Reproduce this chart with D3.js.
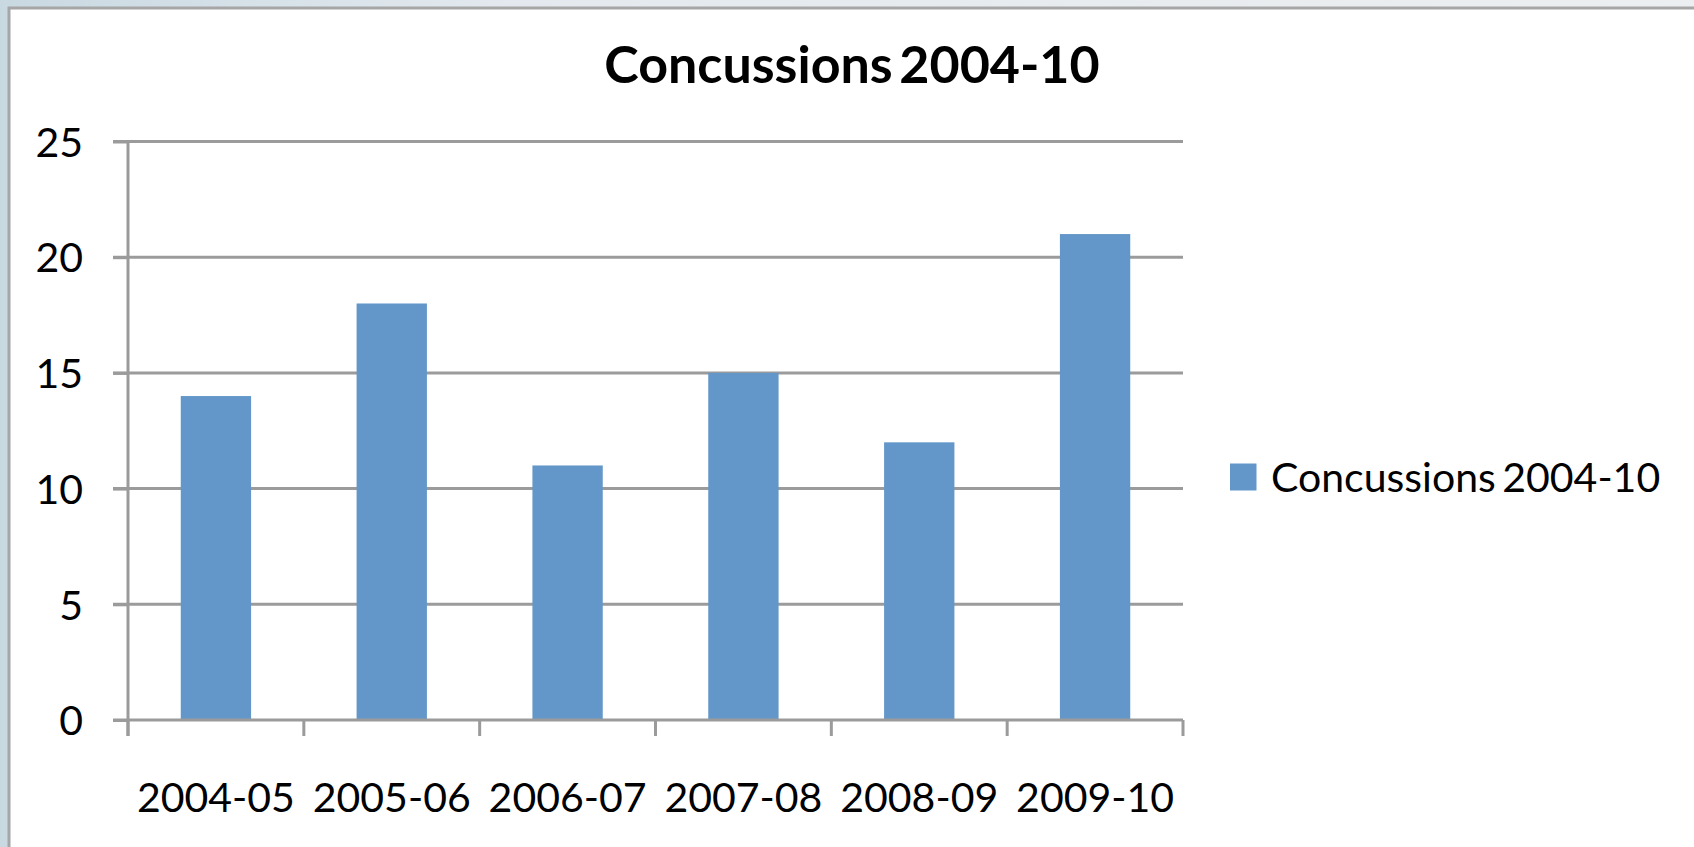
<!DOCTYPE html>
<html>
<head>
<meta charset="utf-8">
<script src="https://cdn.jsdelivr.net/npm/d3@7"></script>
<style>
  html, body { margin: 0; padding: 0; background: #dfe7ed; overflow: hidden; }
  svg { display: block; }
</style>
</head>
<body>
<svg id="chart" width="1694" height="847"></svg>
<script>
const categories = ["2004-05", "2005-06", "2006-07", "2007-08", "2008-09", "2009-10"];
const values = [14, 18, 11, 15, 12, 21];
const yTicks = [0, 5, 10, 15, 20, 25];
const seriesName = "Concussions 2004-10";
const titleText = "Concussions 2004-10";

const W = 1694, H = 847;
const svg = d3.select("#chart");
const FONT = "Lato, 'Open Sans', sans-serif";
const GRID = "#9b9b9b";
const BAR = "#6397c9";

// background
const defs = svg.append("defs");
const bg = defs.append("linearGradient").attr("id", "bg").attr("x1", 0).attr("x2", 1).attr("y1", 0).attr("y2", 0);
bg.append("stop").attr("offset", "0").attr("stop-color", "#c9d9e2");
bg.append("stop").attr("offset", "0.3").attr("stop-color", "#e3e9ee");
bg.append("stop").attr("offset", "1").attr("stop-color", "#eceff1");
svg.append("rect").attr("width", W).attr("height", H).attr("fill", "url(#bg)");

// chart area
svg.append("rect").attr("x", 9).attr("y", 8).attr("width", W + 20).attr("height", H + 20)
  .attr("fill", "#ffffff").attr("stroke", "#a6a6a6").attr("stroke-width", 3);

const x0 = 128, x1 = 1183, yBase = 720, yTop = 141.5;

const x = d3.scaleBand().domain(categories).range([x0, x1]).paddingInner(0.6).paddingOuter(0.3);
const y = d3.scaleLinear().domain([0, 25]).range([yBase, yTop]);

// gridlines
svg.append("g").selectAll("line").data(yTicks.filter(d => d > 0)).join("line")
  .attr("x1", x0 - 15).attr("x2", x1).attr("y1", d => y(d)).attr("y2", d => y(d))
  .attr("stroke", GRID).attr("stroke-width", 3);

// bars
svg.append("g").selectAll("rect").data(values).join("rect")
  .attr("x", (d, i) => x(categories[i]))
  .attr("width", x.bandwidth())
  .attr("y", d => y(d))
  .attr("height", d => y(0) - y(d))
  .attr("fill", BAR);

// y axis
const yAxis = d3.axisLeft(y).tickValues(yTicks).tickSize(15).tickPadding(30).tickFormat(d3.format("d"));
const gy = svg.append("g").attr("transform", `translate(${x0},0)`).call(yAxis);
gy.select(".domain").attr("stroke", GRID).attr("stroke-width", 3).attr("d", `M0,${yTop}V${yBase + 16}`);
gy.selectAll(".tick line").attr("stroke", GRID).attr("stroke-width", 3);
gy.selectAll(".tick text").attr("font-family", FONT).attr("font-size", 41).attr("fill", "#000").attr("dy", "0.36em");

// x axis with ticks at band boundaries
const boundaries = d3.range(categories.length + 1).map(i => x0 + i * x.step());
svg.append("line").attr("x1", x0 - 15).attr("x2", x1).attr("y1", yBase).attr("y2", yBase)
  .attr("stroke", GRID).attr("stroke-width", 3);
svg.append("g").selectAll("line").data(boundaries).join("line")
  .attr("x1", d => d).attr("x2", d => d).attr("y1", yBase).attr("y2", yBase + 16)
  .attr("stroke", GRID).attr("stroke-width", 3);
svg.append("g").selectAll("text").data(categories).join("text")
  .attr("x", d => x(d) + x.bandwidth() / 2).attr("y", 812)
  .attr("text-anchor", "middle").attr("font-family", FONT).attr("font-size", 41).attr("fill", "#000")
  .text(d => d);

// title
svg.append("text").attr("x", 852).attr("y", 83).attr("text-anchor", "middle")
  .attr("font-family", FONT).attr("font-weight", "bold").attr("font-size", 52).attr("word-spacing", -6).attr("fill", "#000")
  .text(titleText);

// legend
svg.append("rect").attr("x", 1230).attr("y", 463.5).attr("width", 26.5).attr("height", 27).attr("fill", BAR);
svg.append("text").attr("x", 1271).attr("y", 492).attr("font-family", FONT).attr("font-size", 41).attr("word-spacing", -4).attr("fill", "#000")
  .text(seriesName);
</script>
</body>
</html>
